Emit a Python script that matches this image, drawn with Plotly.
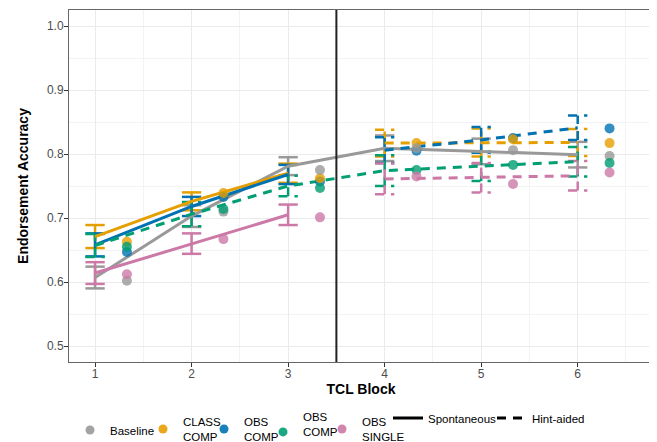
import plotly.graph_objects as go

# ---------------- data ----------------
blocks = [1, 2, 3, 4, 5, 6]
conditions = ["Baseline", "CLASS COMP", "OBS COMP", "OBS COMP HINT", "OBS SINGLE"]
legend_labels = ["Baseline", "CLASS<br>COMP", "OBS<br>COMP", "OBS<br>COMP<br>HINT", "OBS<br>SINGLE"]
colors = ["#999999", "#E69F00", "#0072B2", "#009E73", "#CC79A7"]

# model estimates (lines + error bars)
baseline_mean = [0.607, 0.703, 0.781, 0.809, 0.804, 0.799]
baseline_err = [0.017, 0.017, 0.014, 0.020, 0.020, 0.020]
class_comp_mean = [0.671, 0.726, 0.770, 0.817, 0.818, 0.818]
class_comp_err = [0.018, 0.014, 0.015, 0.021, 0.022, 0.021]
obs_comp_mean = [0.658, 0.718, 0.768, 0.806, 0.822, 0.841]
obs_comp_err = [0.018, 0.015, 0.015, 0.020, 0.020, 0.019]
obs_comp_hint_mean = [0.657, 0.706, 0.750, 0.774, 0.781, 0.788]
obs_comp_hint_err = [0.018, 0.019, 0.016, 0.024, 0.023, 0.023]
obs_single_mean = [0.614, 0.660, 0.705, 0.761, 0.763, 0.766]
obs_single_err = [0.017, 0.016, 0.016, 0.024, 0.023, 0.023]

# observed means (points)
baseline_obs = [0.602, 0.710, 0.775, 0.809, 0.806, 0.797]
class_comp_obs = [0.663, 0.739, 0.762, 0.817, 0.823, 0.817]
obs_comp_obs = [0.647, 0.733, 0.757, 0.805, 0.825, 0.840]
obs_comp_hint_obs = [0.655, 0.714, 0.747, 0.775, 0.783, 0.786]
obs_single_obs = [0.612, 0.667, 0.701, 0.765, 0.753, 0.771]

# cue type per block
baseline_type = ["Spontaneous"] * 6
class_comp_type = ["Spontaneous"] * 3 + ["Hint-aided"] * 3
obs_comp_type = ["Spontaneous"] * 3 + ["Hint-aided"] * 3
obs_comp_hint_type = ["Hint-aided"] * 6
obs_single_type = ["Spontaneous"] * 3 + ["Hint-aided"] * 3

cue_types = ["Spontaneous", "Hint-aided"]
phase_break = 3.5

means = [baseline_mean, class_comp_mean, obs_comp_mean, obs_comp_hint_mean, obs_single_mean]
errs = [baseline_err, class_comp_err, obs_comp_err, obs_comp_hint_err, obs_single_err]
obs = [baseline_obs, class_comp_obs, obs_comp_obs, obs_comp_hint_obs, obs_single_obs]
types = [baseline_type, class_comp_type, obs_comp_type, obs_comp_hint_type, obs_single_type]

# ---------------- style ----------------
WIN_W, WIN_H = 657, 442
PAGE_OFF = 8                      # default body margin of the page
W, H = WIN_W - PAGE_OFF, WIN_H - PAGE_OFF
# plot area in window pixels
P_L, P_R, P_T, P_B = 69, 653, 10, 362
ML = P_L - PAGE_OFF
MT = P_T - PAGE_OFF
MR = WIN_W - P_R
MB = WIN_H - P_B
FONT = "Liberation Sans, Arial, sans-serif"
DASH = {"Spontaneous": "solid", "Hint-aided": "9px,7px"}
CAP = 0.1           # half cap width in x units
POINT_SHIFT = 0.33  # nudge of observed points
LINE_W = 3
ERR_W = 2.5


def px_x(px):
    return (px - P_L) / (P_R - P_L)


def px_y(px):
    return (P_B - px) / (P_B - P_T)


fig = go.Figure()


def segments(tp):
    segs, cur = [], [0]
    for i in range(1, len(tp)):
        if tp[i] == tp[i - 1]:
            cur.append(i)
        else:
            segs.append(cur)
            cur = [i]
    segs.append(cur)
    return segs


# error bars
for c in range(len(conditions)):
    for ct in cue_types:
        xs, ys = [], []
        for i, b in enumerate(blocks):
            if types[c][i] != ct:
                continue
            lo = means[c][i] - errs[c][i]
            hi = means[c][i] + errs[c][i]
            xs += [b, b, None, b - CAP, b + CAP, None, b - CAP, b + CAP, None]
            ys += [lo, hi, None, hi, hi, None, lo, lo, None]
        if xs:
            fig.add_trace(go.Scatter(
                x=xs, y=ys, mode="lines", showlegend=False, hoverinfo="skip",
                line=dict(color=colors[c], width=ERR_W, dash=DASH[ct]),
                connectgaps=False))

# lines
for c in range(len(conditions)):
    for seg in segments(types[c]):
        fig.add_trace(go.Scatter(
            x=[blocks[i] for i in seg], y=[means[c][i] for i in seg],
            mode="lines", showlegend=False,
            line=dict(color=colors[c], width=LINE_W, dash=DASH[types[c][seg[0]]]),
            name=conditions[c]))

# points
point_order = [2, 1, 0, 3, 4]
for c in point_order:
    fig.add_trace(go.Scatter(
        x=[b + POINT_SHIFT for b in blocks], y=obs[c], mode="markers",
        showlegend=False, name=conditions[c],
        marker=dict(color=colors[c], size=10, opacity=0.8, line=dict(width=0))))

# color legends (one per entry so that entries are vertically centred)
legend_left_px = [70, 143, 204, 263, 322]
legend_mid_px = [430, 429, 429, 432, 429]
legend_keys = ["legend", "legend2", "legend3", "legend4", "legend5"]
legend_layouts = {}
for c in range(len(conditions)):
    fig.add_trace(go.Scatter(
        x=[None], y=[None], mode="markers", name=legend_labels[c],
        legend=legend_keys[c], showlegend=True,
        marker=dict(color=colors[c], size=9, opacity=0.9)))
    legend_layouts[legend_keys[c]] = dict(
        x=px_x(legend_left_px[c]), y=px_y(legend_mid_px[c]), xanchor="left", yanchor="middle",
        bgcolor="rgba(0,0,0,0)", font=dict(family=FONT, size=11.5, color="#000000"),
        orientation="v", itemclick=False, itemdoubleclick=False)

# linetype legends
lt_left_px = [388, 492]
lt_keys = ["legend6", "legend7"]
for k, ct in enumerate(cue_types):
    fig.add_trace(go.Scatter(
        x=[None], y=[None], mode="lines", name=ct, legend=lt_keys[k], showlegend=True,
        line=dict(color="#000000", width=3, dash=DASH[ct])))
    legend_layouts[lt_keys[k]] = dict(
        x=px_x(lt_left_px[k]), y=px_y(418), xanchor="left", yanchor="middle",
        bgcolor="rgba(0,0,0,0)", font=dict(family=FONT, size=11.5, color="#000000"),
        orientation="v", itemclick=False, itemdoubleclick=False)

fig.add_shape(type="line", x0=phase_break, x1=phase_break, xref="x", y0=0, y1=1, yref="paper",
              line=dict(color="#222222", width=2), layer="above")

axis_common = dict(
    showline=True, mirror=True, linecolor="#666666", linewidth=1,
    ticks="outside", ticklen=4, tickwidth=1, tickcolor="#333333",
    tickfont=dict(family=FONT, size=12, color="#4D4D4D"),
    showgrid=True, gridcolor="#EBEBEB", gridwidth=1, zeroline=False,
)

fig.update_layout(
    width=W, height=H,
    margin=dict(l=ML, r=MR, t=MT, b=MB, autoexpand=False),
    paper_bgcolor="white", plot_bgcolor="white",
    font=dict(family=FONT),
    xaxis=dict(range=[0.73, 6.78], tickmode="array", tickvals=blocks,
               ticktext=[str(b) for b in blocks], ticklabelstandoff=-3,
               minor=dict(showgrid=True, dtick=0.5, tick0=0.5, gridcolor="#F3F3F3", gridwidth=0.6),
               title=dict(text="TCL Block", standoff=1,
                          font=dict(family=FONT, size=14, color="#000000", weight="bold")),
               **axis_common),
    yaxis=dict(range=[0.475, 1.025], tickmode="array", tickvals=[0.5, 0.6, 0.7, 0.8, 0.9, 1.0],
               ticktext=["0.5", "0.6", "0.7", "0.8", "0.9", "1.0"], ticklabelstandoff=-2,
               minor=dict(showgrid=True, dtick=0.05, tick0=0.05, gridcolor="#F3F3F3", gridwidth=0.6),
               title=dict(text="Endorsement Accuracy", standoff=15,
                          font=dict(family=FONT, size=14, color="#000000", weight="bold")),
               **axis_common),
    **legend_layouts,
)

fig.write_html("out.html")
